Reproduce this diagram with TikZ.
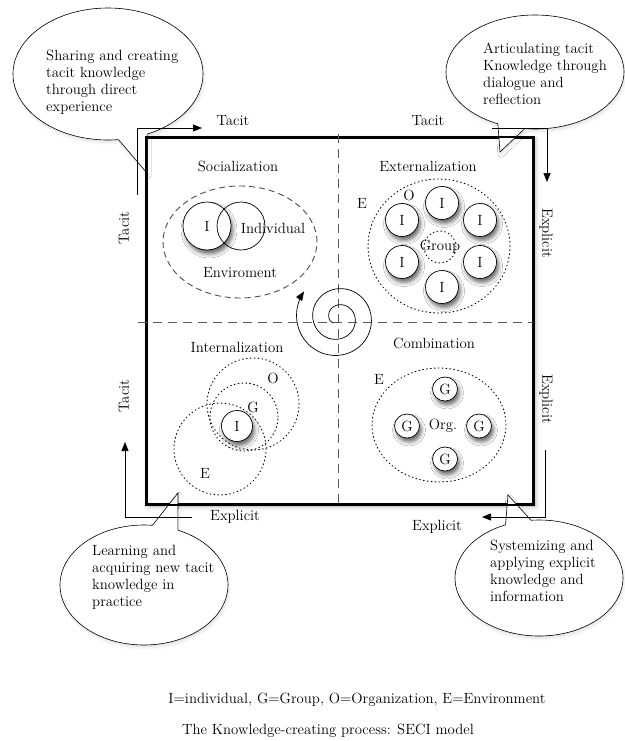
\documentclass[tikz,border=0pt]{standalone}
\usepackage{fontspec}
\usetikzlibrary{shapes.callouts,shapes.geometric,shadows.blur,arrows.meta}

\tikzset{
  frame/.style={draw, line width=2pt, fill=white, inner sep=0pt,
    blur shadow={shadow xshift=2pt, shadow yshift=-2pt, shadow blur radius=5pt, shadow opacity=35}},
  frameline/.style={line width=2pt},
  bubble/.style={ellipse callout, draw, fill=white, line width=0.6pt, inner sep=0pt,
    callout pointer arc=18,
    blur shadow={shadow xshift=1pt, shadow yshift=-2.5pt, shadow blur radius=3pt, shadow opacity=12}},
  bubbletext/.style={align=left, inner sep=0pt, anchor=north west},
  ibox/.style={circle, draw, fill=white, line width=0.7pt, inner sep=0pt,
    blur shadow={shadow xshift=2pt, shadow yshift=-4pt, shadow blur radius=4pt, shadow opacity=60}},
  dotring/.style={draw, line width=0.9pt, dash pattern=on 0.9pt off 3pt, line cap=round, inner sep=0pt},
  dashring/.style={draw, black!70, line width=0.9pt, dash pattern=on 6pt off 4pt, ellipse, inner sep=0pt},
  midline/.style={draw=black!65, line width=0.9pt, dash pattern=on 9pt off 6pt},
  flow/.style={line width=0.7pt, -{Triangle[length=9pt,width=7pt]}},
}

\begin{document}
\begin{tikzpicture}[x=1pt, y=-1pt, font=\fontsize{14.8}{17}\selectfont]
  \useasboundingbox (0,0) rectangle (624,741);

  % frame
  \node[frame, minimum width=386, minimum height=366] (F) at (340,321) {};

  % callouts
  \node[bubble, minimum width=190, minimum height=132, callout absolute pointer={(147,173)}] (B1) at (108,74) {};
  \node[bubble, minimum width=178, minimum height=114, callout absolute pointer={(500,152)}] (B2) at (535,72) {};
  \node[bubble, minimum width=168, minimum height=120, callout absolute pointer={(178,493)}] (B3) at (144,585) {};
  \node[bubble, minimum width=168, minimum height=116, callout absolute pointer={(508,495)}] (B4) at (539,578) {};

  \node[bubbletext] (T1) at (46,50)  {Sharing and creating\\tacit knowledge\\through direct\\experience};
  \node[bubbletext] (T2) at (483,43) {Articulating tacit\\Knowledge through\\dialogue and\\reflection};
  \node[bubbletext] (T3) at (92,545) {Learning and\\acquiring new tacit\\knowledge in\\practice};
  \node[bubbletext] (T4) at (490,540) {Systemizing and\\applying explicit\\knowledge and\\information};

  \draw[frameline] (F.north west) rectangle (F.south east);

  % dashed cross
  \coordinate (hl) at (138,322);
  \coordinate (hr) at (533,322);
  \coordinate (vt) at (338,134);
  \coordinate (vb) at (338,506);
  \draw[midline] (hl) -- (hr);
  \draw[midline] (vt) -- (vb);

  % outer arrows
  \coordinate (a1) at (137,195);
  \coordinate (a2) at (492,128);
  \coordinate (a3) at (192,517);
  \coordinate (a4) at (545,450);
  \draw[flow] (a1) |- (202,128);
  \draw[flow] (a2) -| (547,182);
  \draw[flow] (a3) -| (125,442);
  \draw[flow] (a4) |- (482,517);

  \node (t1) at (233,121) {Tacit};
  \node (t2) at (428,121) {Tacit};
  \node[rotate=90] (t3) at (124,228) {Tacit};
  \node[rotate=90] (t4) at (124,396) {Tacit};
  \node[rotate=-90] (e1) at (546,233) {Explicit};
  \node[rotate=-90] (e2) at (546,399) {Explicit};
  \node (e3) at (235,517) {Explicit};
  \node (e4) at (437,527) {Explicit};

  % quadrant titles
  \node (soc) at (238,166) {Socialization};
  \node (ext) at (428,166) {Externalization};
  \node (int) at (237,347) {Internalization};
  \node (com) at (434,343) {Combination};

  % socialization
  \node[dashring, minimum width=154, minimum height=112] (senv) at (240,242) {};
  \node[ibox, minimum size=48] (si) at (207,226) {I};
  \node[circle, draw, line width=0.7pt, minimum size=48] (sind) at (241,226) {};
  \node (sindl) at (273,228) {Individual};
  \node (senvl) at (240,273) {Enviroment};

  % externalization
  \node[dotring, ellipse, minimum width=142, minimum height=134] (xo) at (439,246) {};
  \node (xe) at (362,203) {E};
  \node (xol) at (409,195) {O};
  \foreach \i/\p in {1/{(442,203)}, 2/{(480,220)}, 3/{(480,262)}, 4/{(442,287)}, 5/{(402,262)}, 6/{(402,220)}}
    \node[ibox, minimum size=33] (xi\i) at \p {I};
  \node[dotring, circle, minimum size=32] (xg) at (440,247) {};
  \node (xgl) at (440,247) {Group};

  % internalization
  \node[dotring, circle, minimum size=92] (io) at (253,404) {};
  \node[dotring, circle, minimum size=68] (ig) at (244,417) {};
  \node[dotring, circle, minimum size=92] (ie) at (220,449) {};
  \node (iol) at (273,378) {O};
  \node (igl) at (253,407) {G};
  \node (iel) at (205,473) {E};
  \node[ibox, minimum size=31] (ii) at (237,426) {I};

  % combination
  \node[dotring, ellipse, minimum width=134, minimum height=114] (co) at (439,425) {};
  \node (cel) at (379,379) {E};
  \foreach \i/\p in {1/{(445,389)}, 2/{(407,426)}, 3/{(479,426)}, 4/{(445,459)}}
    \node[ibox, ellipse, minimum width=25, minimum height=24] (cg\i) at \p {G};
  \node (corg) at (443,426) {Org.};

  % spiral
  \draw[flow] plot[domain=135:938, samples=140, smooth]
    ({338+(7+0.045*(\x-135))*cos(\x)}, {318+(7+0.045*(\x-135))*sin(\x)});

  % legend
  \node (leg) at (357,700) {I=individual, G=Group, O=Organization, E=Environment};
  \node (cap) at (328,731) {The Knowledge-creating process: SECI model};
\end{tikzpicture}
\end{document}
